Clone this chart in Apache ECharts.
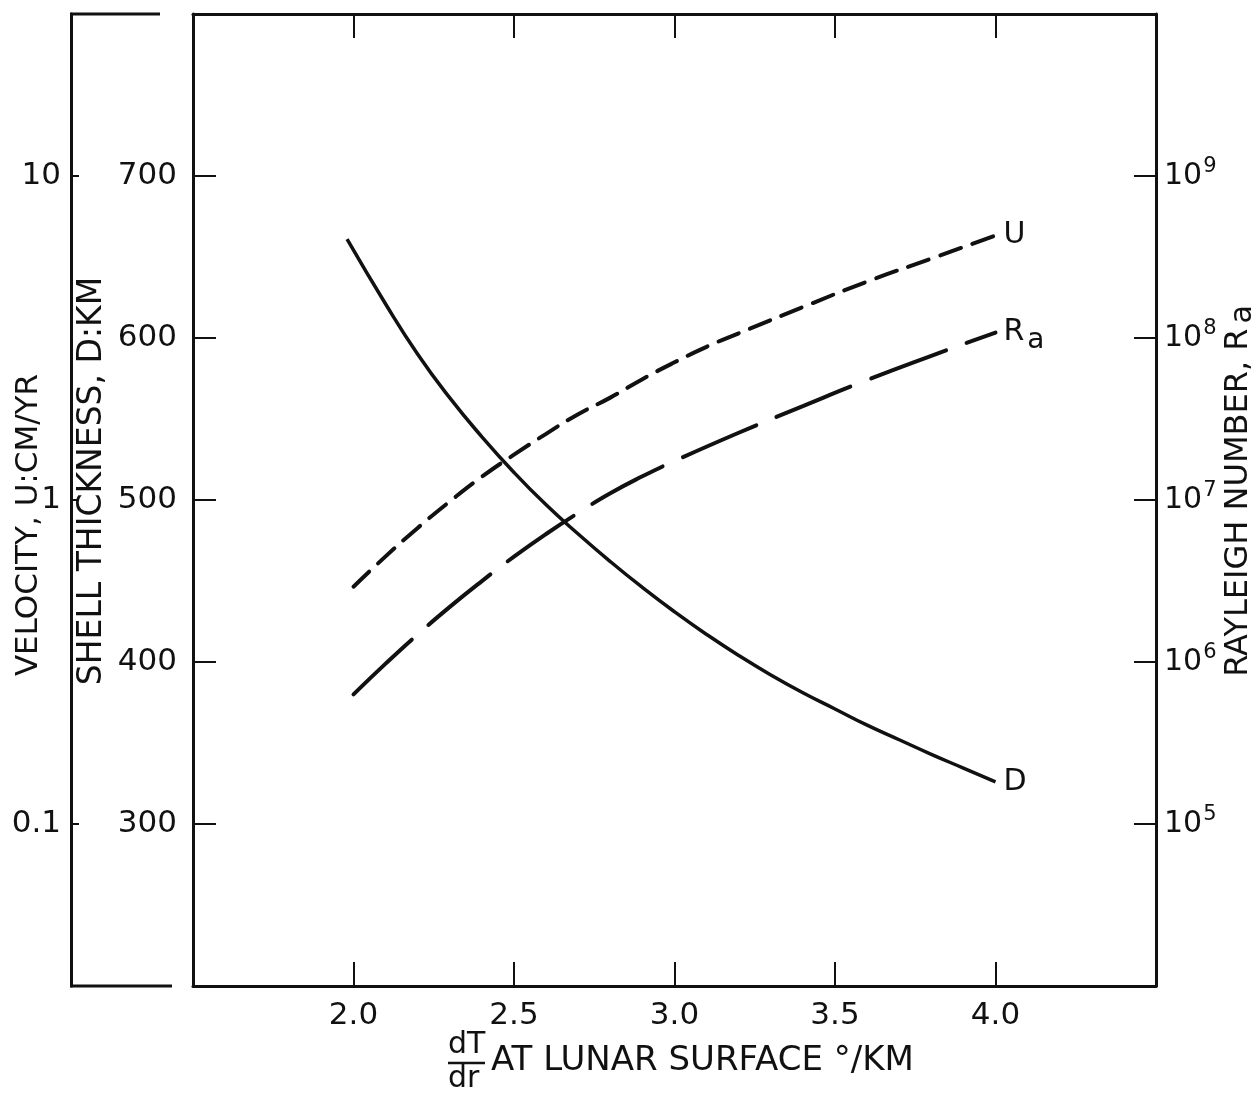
<!DOCTYPE html>
<html><head><meta charset="utf-8">
<script src="https://cdn.jsdelivr.net/npm/echarts@6/dist/echarts.min.js"></script>
<style>html,body{margin:0;padding:0;background:#fff}#c{width:1253px;height:1096px}</style>
</head><body><div id="c"></div>
<script>
// x: temperature gradient dT/dr at lunar surface (deg/km)
const xTicks = [2.0, 2.5, 3.0, 3.5, 4.0];
// Shell thickness D (km)
const xD = [1.98, 2.1, 2.2, 2.3, 2.4, 2.5, 2.6, 2.7, 2.8, 2.9, 3.0, 3.1, 3.2, 3.3, 3.4, 3.5, 3.6, 3.7, 3.8, 3.9, 4.0];
const shellD = [661, 621, 590, 563, 539, 517, 497, 479, 462, 446, 431, 417, 404, 392, 381, 371, 361, 352, 343, 334.5, 326];
// Velocity U (cm/yr)
const xU = [2.0, 2.1, 2.2, 2.3, 2.4, 2.5, 2.6, 2.7, 2.8, 2.9, 3.0, 3.1, 3.2, 3.4, 3.6, 3.8, 4.0];
const velocityU = [0.54, 0.67, 0.82, 0.99, 1.18, 1.38, 1.60, 1.84, 2.07, 2.36, 2.66, 2.97, 3.27, 3.94, 4.72, 5.56, 6.55];
// Rayleigh number Ra
const xRa = [2.0, 2.1, 2.2, 2.3, 2.4, 2.5, 2.6, 2.7, 2.8, 2.9, 3.0, 3.2, 3.4, 3.6, 3.8, 4.0];
const rayleighRa = [6.31e5, 9.77e5, 1.48e6, 2.19e6, 3.16e6, 4.47e6, 6.17e6, 8.32e6, 1.10e7, 1.40e7, 1.74e7, 2.60e7, 3.80e7, 5.50e7, 7.76e7, 1.08e8];

const shellLabels = [300, 400, 500, 600, 700];
const velocityLabels = {'1': '10', '0': '1', '-1': '0.1'};
const rayleighExps = [5, 6, 7, 8, 9];

const FONT = 'DejaVu Sans';
const K = '#111';
const zip = (a, b) => a.map((v, i) => [v, b[i]]);

const chart = echarts.init(document.getElementById('c'), null, {renderer: 'canvas'});
const axisLine = {show: true, lineStyle: {color: K, width: 3}};
chart.setOption({
  animation: false,
  backgroundColor: '#fff',
  textStyle: {fontFamily: FONT, color: K},
  grid: {left: 193, right: 97, top: 14, bottom: 110, containLabel: false, outerBoundsMode: 'none'},
  xAxis: [
    {type: 'value', min: 1.5, max: 4.5, interval: 0.5, position: 'bottom',
     axisLine, splitLine: {show: false},
     axisTick: {inside: true, length: 24, lineStyle: {color: K, width: 2}},
     axisLabel: {fontFamily: FONT, fontSize: 31, color: K, margin: 14,
       formatter: v => xTicks.some(t => Math.abs(t - v) < 1e-6) ? v.toFixed(1) : ''}},
    {type: 'value', min: 1.5, max: 4.5, interval: 0.5, position: 'top',
     axisLine, splitLine: {show: false},
     axisTick: {inside: true, length: 24, lineStyle: {color: K, width: 2}},
     axisLabel: {show: false}}
  ],
  yAxis: [
    {type: 'value', min: 200, max: 800, interval: 100, position: 'left',
     axisLine, splitLine: {show: false},
     axisTick: {inside: true, length: 23, lineStyle: {color: K, width: 2}},
     axisLabel: {fontFamily: FONT, fontSize: 31, color: K, margin: 16,
       formatter: v => shellLabels.includes(v) ? String(v) : ''},
     name: 'SHELL THICKNESS, D:KM', nameLocation: 'middle', nameRotate: 90, nameGap: 84, nameMoveOverlap: false,
     nameTextStyle: {fontFamily: FONT, fontSize: 33, color: K, padding: [0, 0, 0, 38]}},
    {type: 'log', logBase: 10, min: Math.pow(10, -1.5), max: Math.pow(10, 1.5), position: 'left', offset: 122,
     axisLine, splitLine: {show: false},
     axisTick: {inside: true, length: 8, lineStyle: {color: K, width: 2}},
     axisLabel: {fontFamily: FONT, fontSize: 31, color: K, margin: 10, showMinLabel: false, showMaxLabel: false,
       formatter: v => { const e = Math.log10(v); const r = Math.round(e);
         return Math.abs(e - r) < 1e-6 && velocityLabels[String(r)] ? velocityLabels[String(r)] : ''; }},
     name: 'VELOCITY, U:CM/YR', nameLocation: 'middle', nameRotate: 90, nameGap: 27, nameMoveOverlap: false,
     nameTextStyle: {fontFamily: FONT, fontSize: 31, color: K, padding: [0, 50, 0, 0]}},
    {type: 'log', logBase: 10, min: 1e4, max: 1e10, position: 'right',
     axisLine, splitLine: {show: false},
     axisTick: {inside: true, length: 22, lineStyle: {color: K, width: 2}},
     axisLabel: {fontFamily: FONT, fontSize: 30, color: K, margin: 8,
       formatter: v => { const e = Math.round(Math.log10(v));
         return rayleighExps.includes(e) ? '{b|10}{s|' + e + '}' : ''; },
       rich: {b: {fontFamily: FONT, fontSize: 30, color: K},
              s: {fontFamily: FONT, fontSize: 21, color: K, padding: [0, 0, 18, 1]}}},
     name: 'RAYLEIGH NUMBER, R{s|a}', nameLocation: 'middle', nameRotate: 90, nameGap: 64, nameMoveOverlap: false,
     nameTextStyle: {fontFamily: FONT, fontSize: 32, color: K, padding: [0, 0, 0, 18],
       rich: {s: {fontFamily: FONT, fontSize: 30, color: K, padding: [8, 0, 0, 5]}}}}
  ],
  series: [
    {name: 'D', type: 'line', xAxisIndex: 0, yAxisIndex: 0, data: zip(xD, shellD), smooth: true,
     symbol: 'none', lineStyle: {color: K, width: 3.5},
     endLabel: {show: true, formatter: 'D', fontFamily: FONT, fontSize: 30, color: K, distance: 8}},
    {name: 'U', type: 'line', xAxisIndex: 0, yAxisIndex: 1, data: zip(xU, velocityU), smooth: true,
     symbol: 'none', lineStyle: {color: K, width: 4, type: [22, 12], cap: 'round'},
     endLabel: {show: true, formatter: 'U', fontFamily: FONT, fontSize: 30, color: K, distance: 8}},
    {name: 'Ra', type: 'line', xAxisIndex: 0, yAxisIndex: 2, data: zip(xRa, rayleighRa), smooth: true,
     symbol: 'none', lineStyle: {color: K, width: 4, type: [80, 22], cap: 'round'},
     endLabel: {show: true, formatter: '{r|R}{s|a}', distance: 8,
       rich: {r: {fontFamily: FONT, fontSize: 30, color: K},
              s: {fontFamily: FONT, fontSize: 28, color: K, padding: [16, 0, 0, 3]}}}}
  ],
  graphic: [
    {type: 'line', shape: {x1: 70, y1: 14, x2: 160, y2: 14}, style: {stroke: K, lineWidth: 3}},
    {type: 'line', shape: {x1: 70, y1: 986, x2: 172, y2: 986}, style: {stroke: K, lineWidth: 3}},
    {type: 'text', left: 448, top: 1030, style: {text: 'dT', font: '30px "DejaVu Sans"', fill: K}},
    {type: 'line', shape: {x1: 448, y1: 1063, x2: 485, y2: 1063}, style: {stroke: K, lineWidth: 2.5}},
    {type: 'text', left: 448, top: 1064, style: {text: 'dr', font: '30px "DejaVu Sans"', fill: K}},
    {type: 'text', left: 491, top: 1044, style: {text: 'AT LUNAR SURFACE °/KM', font: '34px "DejaVu Sans"', fill: K}}
  ]
});
</script></body></html>
